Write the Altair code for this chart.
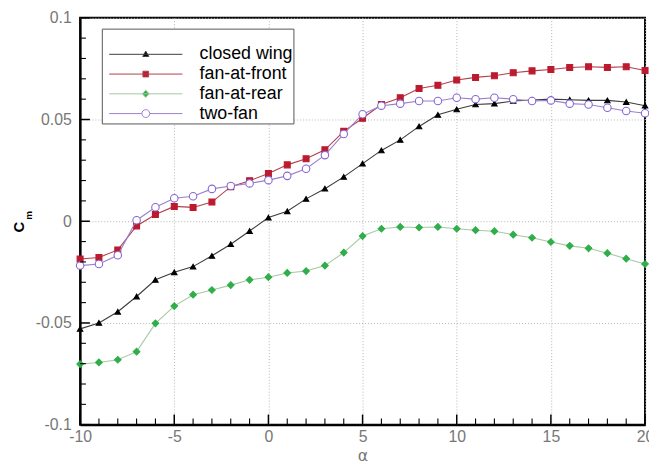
import altair as alt
import pandas as pd

# ---------------- data ----------------
alpha = [-10, -9, -8, -7, -6, -5, -4, -3, -2, -1, 0, 1, 2, 3, 4, 5, 6, 7, 8, 9,
         10, 11, 12, 13, 14, 15, 16, 17, 18, 19, 20]

closed_wing = [-0.0529, -0.0500, -0.0445, -0.0370, -0.0288, -0.0251, -0.0223, -0.0170,
               -0.0113, -0.0048, 0.0018, 0.0049, 0.0110, 0.0160, 0.0218, 0.0283,
               0.0348, 0.0400, 0.0466, 0.0523, 0.0550, 0.0574, 0.0578, 0.0591,
               0.0596, 0.0600, 0.0597, 0.0594, 0.0594, 0.0586, 0.0568]

fan_front = [-0.0186, -0.0178, -0.0141, -0.0023, 0.0033, 0.0073, 0.0068, 0.0094,
             0.0170, 0.0199, 0.0235, 0.0277, 0.0307, 0.0351, 0.0442, 0.0506,
             0.0574, 0.0607, 0.0652, 0.0668, 0.0694, 0.0707, 0.0715, 0.0730,
             0.0739, 0.0746, 0.0756, 0.0759, 0.0756, 0.0759, 0.0741]

fan_rear = [-0.0702, -0.0694, -0.0681, -0.0641, -0.0502, -0.0417, -0.0361, -0.0338,
            -0.0314, -0.0288, -0.0275, -0.0254, -0.0245, -0.0218, -0.0154, -0.0073,
            -0.0037, -0.0028, -0.0031, -0.0028, -0.0037, -0.0044, -0.0049, -0.0066,
            -0.0081, -0.0102, -0.0121, -0.0133, -0.0157, -0.0184, -0.0210]

two_fan = [-0.0218, -0.0210, -0.0167, 0.0005, 0.0069, 0.0113, 0.0123, 0.0159,
           0.0173, 0.0186, 0.0202, 0.0223, 0.0258, 0.0325, 0.0429, 0.0526,
           0.0568, 0.0578, 0.0591, 0.0591, 0.0607, 0.0600, 0.0607, 0.0600,
           0.0591, 0.0594, 0.0578, 0.0574, 0.0558, 0.0542, 0.0531]

series_names = ["closed wing", "fan-at-front", "fan-at-rear", "two-fan"]

x_major = [-10, -5, 0, 5, 10, 15, 20]
x_minor = [-9, -8, -7, -6, -4, -3, -2, -1, 1, 2, 3, 4, 6, 7, 8, 9,
           11, 12, 13, 14, 16, 17, 18, 19]
y_major = [-0.1, -0.05, 0, 0.05, 0.1]
y_minor = [-0.09, -0.08, -0.07, -0.06, -0.04, -0.03, -0.02, -0.01,
           0.01, 0.02, 0.03, 0.04, 0.06, 0.07, 0.08, 0.09]

# ---------------- styles ----------------
line_colors = ["#3c3c3c", "#b0404c", "#a6c8a2", "#9a80cc"]
marker_colors = ["#000000", "#bc1a2e", "#2fae4a", "#8866d4"]
marker_fill = ["#000000", "#bc1a2e", "#2fae4a", "#ffffff"]
marker_shapes = ["triangle-up", "square", "diamond", "circle"]
marker_sizes = [30, 36, 45, 57]

legend_paths = [
    "M-1.03,0H1.03M0,-0.09L0.085,0.06L-0.085,0.06Z",
    "M-1.03,0H1.03M-0.08,-0.08H0.08V0.08H-0.08Z",
    "M-1.03,0H1.03M0,-0.1L0.1,0L0,0.1L-0.1,0Z",
    "M-1.03,0H-0.11M0.11,0H1.03M-0.11,0A0.11,0.11,0,1,0,0.11,0A0.11,0.11,0,1,0,-0.11,0Z",
]

df = pd.DataFrame({
    "alpha": alpha * 4,
    "cm": closed_wing + fan_front + fan_rear + two_fan,
    "series": sum([[n] * len(alpha) for n in series_names], []),
})

X_MIN, X_MAX = -10, 20
Y_MIN, Y_MAX = -0.1, 0.1
xs = alt.Scale(domain=[X_MIN, X_MAX], nice=False, zero=False)
ys = alt.Scale(domain=[Y_MIN, Y_MAX], nice=False, zero=False)

x_axis = alt.Axis(values=x_major, title="α", labelExpr="datum.value + ''", grid=True,
                  ticks=False, labelFlush=False, labelOverlap=False, labelPadding=4,
                  titlePadding=3)
y_axis = alt.Axis(values=y_major, title=None, labelExpr="datum.value + ''", grid=True,
                  ticks=False, labelFlush=False, labelOverlap=False, labelPadding=9)

X = alt.X("alpha:Q", scale=xs, axis=x_axis)
Y = alt.Y("cm:Q", scale=ys, axis=y_axis)

layers = []

base = alt.Chart(df)
for i, name in enumerate(series_names):
    sub = base.transform_filter(alt.datum.series == name)
    layers.append(sub.mark_line(color=line_colors[i], strokeWidth=1.1).encode(x=X, y=Y))
    layers.append(sub.mark_point(shape=marker_shapes[i], size=marker_sizes[i],
                                 fill=marker_fill[i], stroke=marker_colors[i],
                                 strokeWidth=1.1, opacity=1, filled=(i != 3))
                  .encode(x=X, y=Y))

# inward tick marks: tick segments in data units (major ~10px, minor ~6px)
maj_rows, min_rows = [], []
for v in x_major:
    maj_rows.append({"alpha": v, "alpha2": v, "cm": Y_MIN, "cm2": Y_MIN + 0.0050})
for v in x_minor:
    min_rows.append({"alpha": v, "alpha2": v, "cm": Y_MIN, "cm2": Y_MIN + 0.0030})
for v in y_major:
    maj_rows.append({"alpha": X_MIN, "alpha2": X_MIN + 0.52, "cm": v, "cm2": v})
for v in y_minor:
    min_rows.append({"alpha": X_MIN, "alpha2": X_MIN + 0.31, "cm": v, "cm2": v})

for rows, w in [(maj_rows, 1.5), (min_rows, 1.1)]:
    layers.append(alt.Chart(pd.DataFrame(rows)).mark_rule(color="black", strokeWidth=w).encode(
        x=X, x2=alt.X2("alpha2:Q"), y=Y, y2=alt.Y2("cm2:Q")))

leg = alt.Legend(title=" ", orient="none", legendX=22, legendY=11, padding=0,
                 fillColor="white", strokeColor="#555555", symbolSize=5184,
                 symbolStrokeWidth=1, symbolOffset=8, labelOffset=18,
                 labelFont="Liberation Sans", labelFontSize=18, labelColor="black",
                 clipHeight=20, rowPadding=0, titleFontSize=13, titlePadding=3,
                 symbolOpacity=1)

legend_layer = base.transform_filter("false").mark_point(opacity=1).encode(
    shape=alt.Shape("series:N", scale=alt.Scale(domain=series_names, range=legend_paths), legend=leg),
    fill=alt.Fill("series:N", scale=alt.Scale(domain=series_names, range=marker_fill), legend=leg),
    stroke=alt.Stroke("series:N", scale=alt.Scale(domain=series_names, range=line_colors), legend=leg),
)
layers.append(legend_layer)

c_text = alt.Chart(pd.DataFrame({"t": ["C"]})).mark_text(
    text="C", angle=270, fontSize=15, fontWeight="bold", font="Liberation Sans",
    color="black", align="center", baseline="middle"
).encode(x=alt.value(-62), y=alt.value(212))
m_text = alt.Chart(pd.DataFrame({"t": ["m"]})).mark_text(
    text="m", angle=270, fontSize=10, fontWeight="bold", font="Liberation Sans",
    color="black", align="center", baseline="middle"
).encode(x=alt.value(-52), y=alt.value(200))
layers += [c_text, m_text]

chart = alt.layer(*layers).properties(
    width=572, height=412,
    padding={"left": 73, "top": 7, "right": 4, "bottom": 45},
    autosize=alt.AutoSizeParams(type="none"),
).configure_view(
    stroke="black", strokeWidth=2
).configure_axis(
    domainColor="black", domainWidth=2, gridColor="#b4b4b4", gridDash=[1, 2],
    gridWidth=1, labelFont="Liberation Sans", labelFontSize=16, labelColor="#777777",
    titleFont="DejaVu Sans", titleFontSize=16, titleColor="#777777",
    titleFontWeight="normal"
)

chart.save("out.html", embed_options={"renderer": "svg", "actions": False})
